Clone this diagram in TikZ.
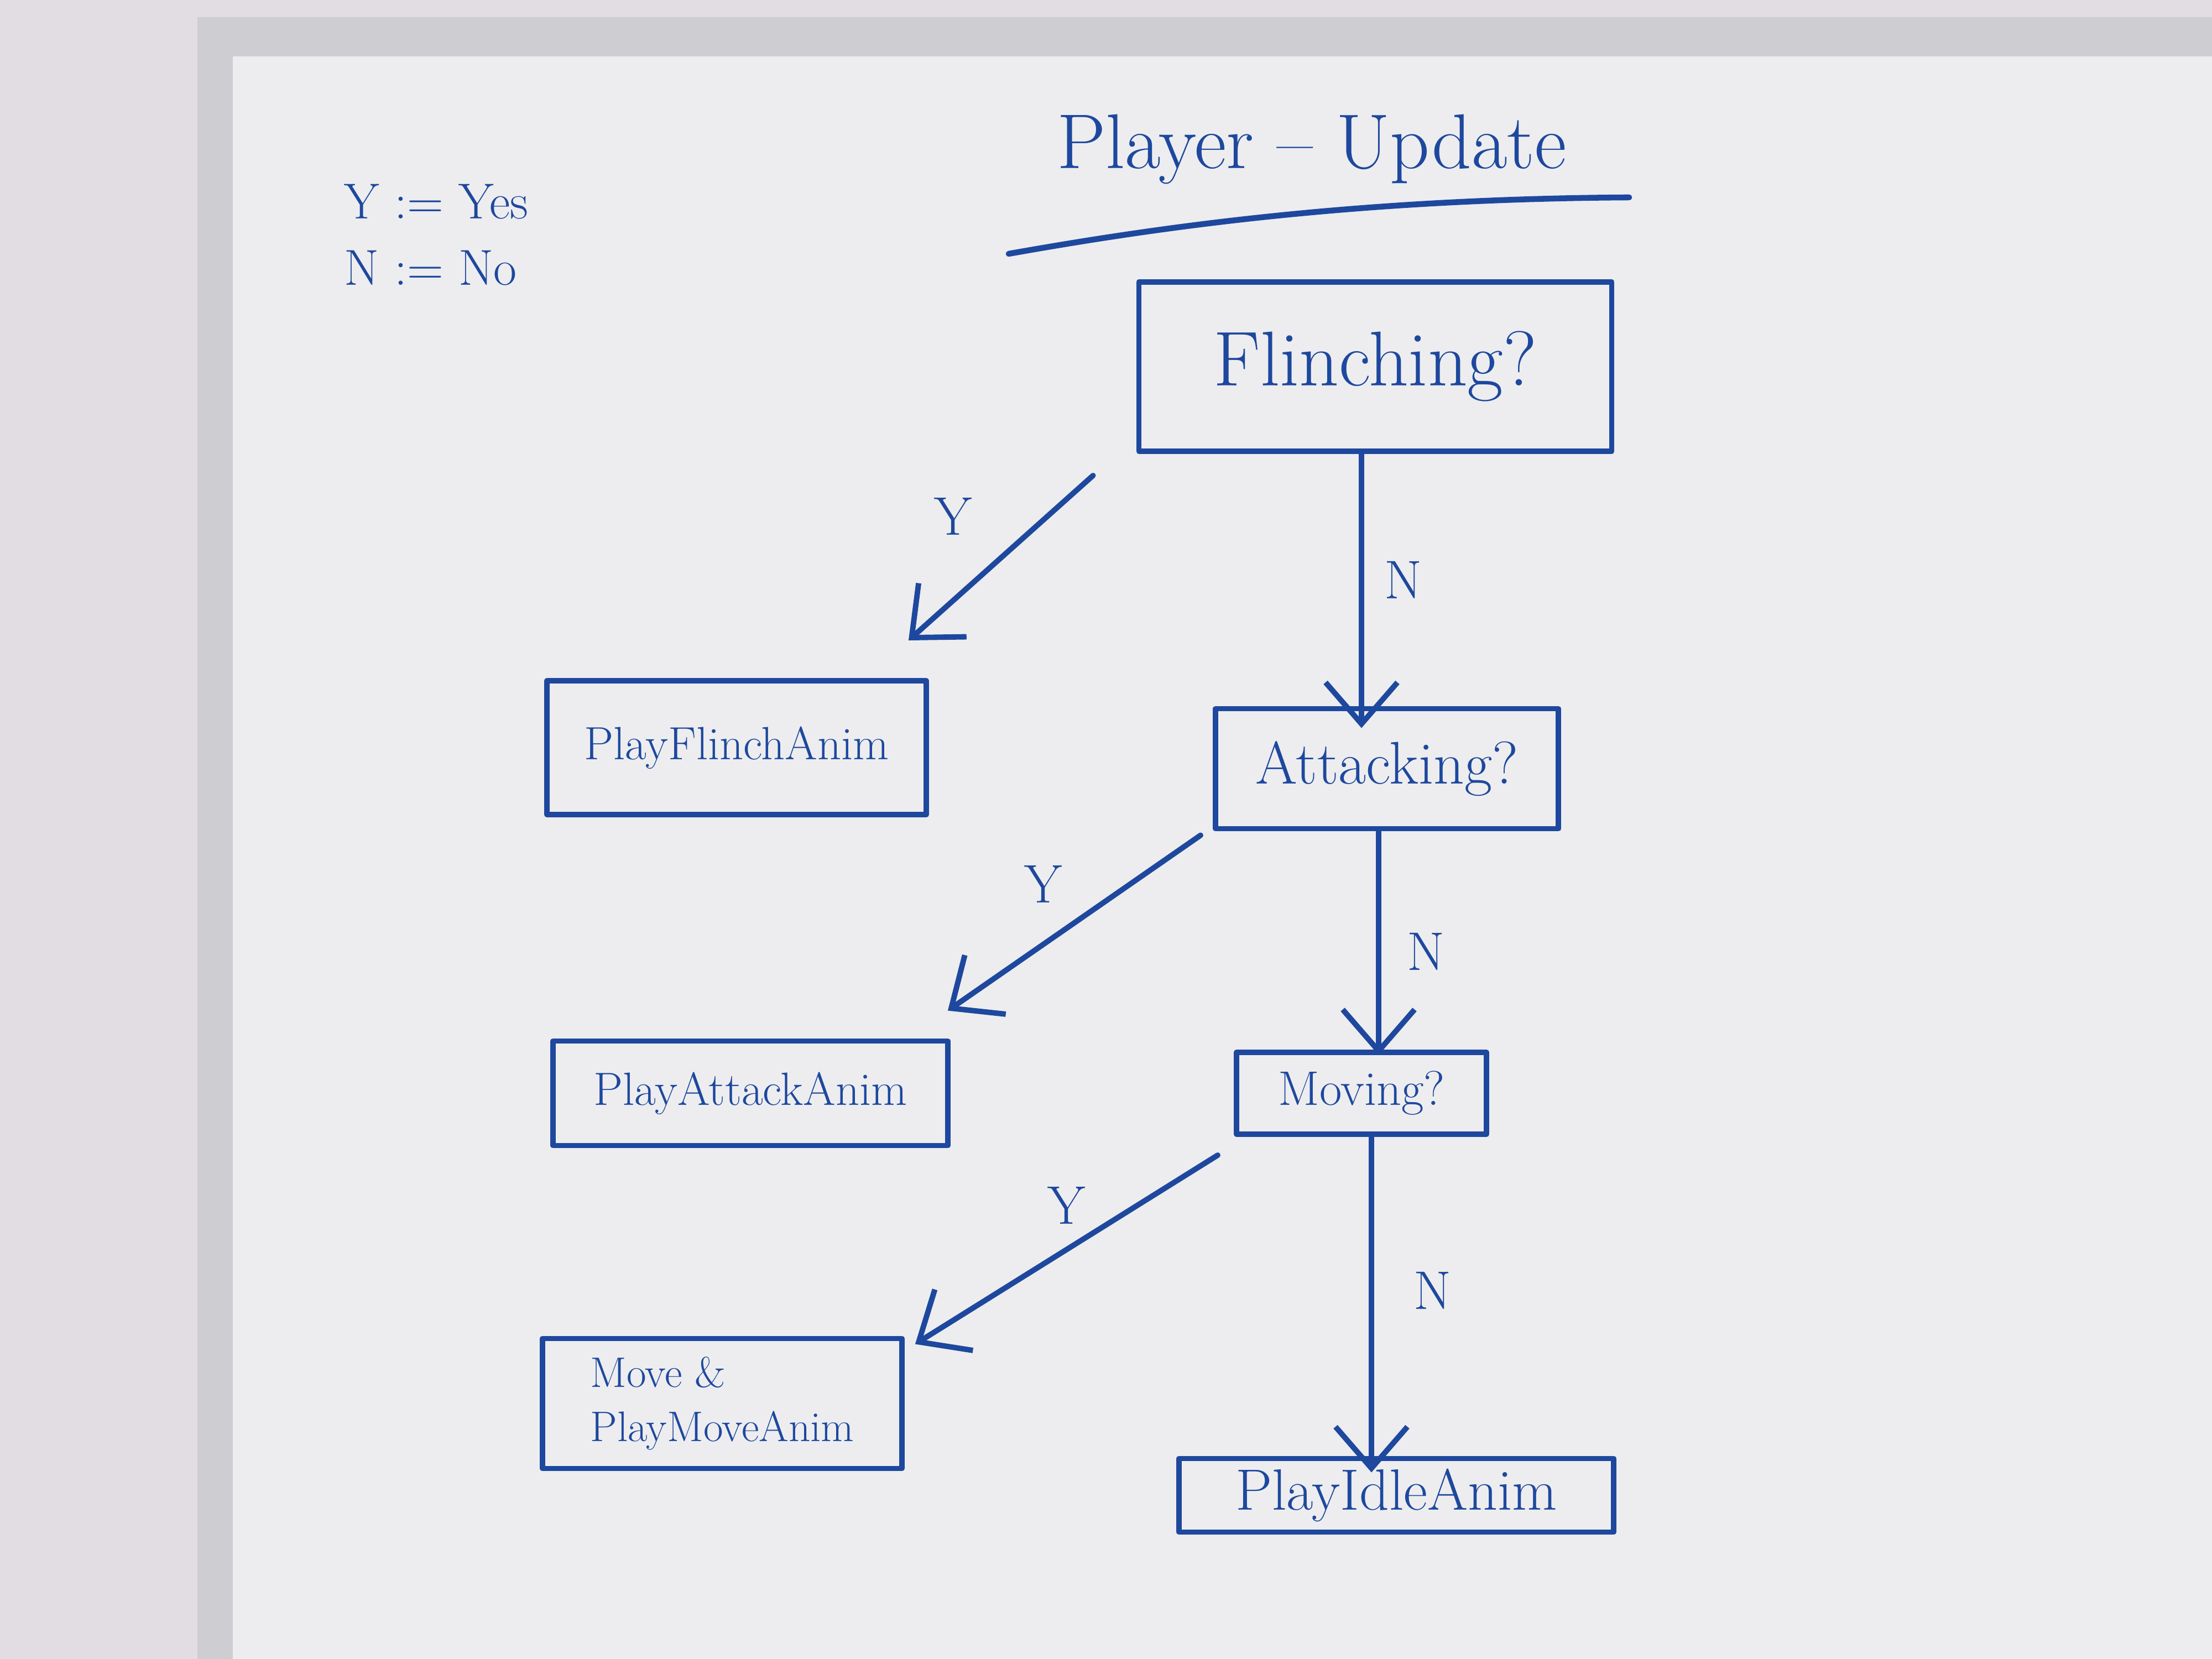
\documentclass[tikz,border=0pt]{standalone}
\usepackage{tikz}
\usetikzlibrary{arrows.meta, calc, positioning}

\begin{document}
\begin{tikzpicture}[line cap=round, line join=round,
  box/.style={draw=marker, line width=2.8pt, text=marker, inner sep=0pt},
  flow/.style={draw=marker, line width=2.8pt,
    -{Straight Barb[length=0.75cm, width=1.3cm]}},
  lbl/.style={text=marker, font=\labelfont}]
  \def\titlefont{\fontsize{40}{48}\selectfont}
  \def\bigfont{\fontsize{40}{48}\selectfont}
  \def\midfont{\fontsize{30}{36}\selectfont}
  \def\smallfont{\fontsize{24}{29}\selectfont}
  \def\labelfont{\fontsize{28}{34}\selectfont}

  \definecolor{marker}{RGB}{30,72,158}
  \definecolor{wall}{RGB}{226,221,226}
  \definecolor{frame}{RGB}{206,206,210}
  \definecolor{boardwhite}{RGB}{237,237,239}

  % board and wall
  \useasboundingbox (0,0) rectangle (40,30);
  \fill[wall] (0,0) rectangle (40,30);
  \fill[frame] (3.57,0) rectangle (40,29.69);
  \fill[boardwhite] (4.21,0) rectangle (40,28.98);

  % title and legend
  \node[lbl, font=\titlefont] (title) at (23.72,27.3) {Player -- Update};
  \draw[marker, line width=3pt] (18.24,25.41) .. controls (21,25.9) and (24.5,26.4) .. (29.46,26.43);
  \node[lbl, anchor=west, font=\fontsize{26}{31}\selectfont] (yes) at (6.1,26.35) {Y := Yes};
  \node[lbl, anchor=west, font=\fontsize{26}{31}\selectfont] (no) at (6.1,25.15) {N := No};

  % decisions
  \node[box, minimum width=8.55cm, minimum height=3.06cm, font=\bigfont]
    (flinching) at (24.87,23.37) {Flinching?};
  \node[box, minimum width=6.2cm, minimum height=2.17cm, font=\fontsize{31}{37}\selectfont]
    (attacking) at (25.08,16.10) {Attacking?};
  \node[box, minimum width=4.52cm, minimum height=1.48cm, font=\fontsize{25}{30}\selectfont]
    (moving) at (24.62,10.23) {Moving?};

  % actions
  \node[box, minimum width=6.86cm, minimum height=2.42cm, font=\smallfont]
    (flinchanim) at (13.32,16.48) {PlayFlinchAnim};
  \node[box, minimum width=7.14cm, minimum height=1.89cm, font=\smallfont]
    (attackanim) at (13.57,10.23) {PlayAttackAnim};
  \node[box, minimum width=6.5cm, minimum height=2.35cm, align=left,
    font=\fontsize{22}{28}\selectfont]
    (moveanim) at (13.06,4.62) {Move \&\\PlayMoveAnim};
  \node[box, minimum width=7.86cm, minimum height=1.33cm, font=\midfont]
    (idleanim) at (25.25,2.96) {PlayIdleAnim};

  % yes branches
  \draw[flow] ($(flinching.south west)+(-0.78,-0.39)$) -- ($(flinchanim.north east)+(-0.37,0.68)$)
    node[lbl, midway, above left=0.25cm and 0.35cm] (y1) {Y};
  \draw[flow] ($(attacking.south west)+(-0.22,-0.07)$) -- ($(attackanim.north east)+(-0.05,0.5)$)
    node[lbl, midway, above left=0.2cm and 0.05cm] (y2) {Y};
  \draw[flow] ($(moving.south west)+(-0.29,-0.33)$) -- ($(moveanim.north east)+(0.19,-0.15)$)
    node[lbl, midway, above=0.3cm] (y3) {Y};

  % no branches
  \draw[flow, shorten >=-0.4cm] ($(flinching.south)+(-0.25,0)$) -- ($(flinching.south |- attacking.north)+(-0.25,0)$)
    node[lbl, midway, right=0.25cm] (n1) {N};
  \draw[flow, shorten >=-0.1cm] ($(attacking.south)+(-0.15,0)$) -- ($(attacking.south |- moving.north)+(-0.15,0)$)
    node[lbl, midway, right=0.35cm, yshift=-0.2cm] (n2) {N};
  \draw[flow, shorten >=-0.3cm] ($(moving.south)+(0.18,0)$) -- ($(moving.south |- idleanim.north)+(0.18,0)$)
    node[lbl, midway, right=0.6cm, yshift=0.1cm] (n3) {N};
\end{tikzpicture}
\end{document}
